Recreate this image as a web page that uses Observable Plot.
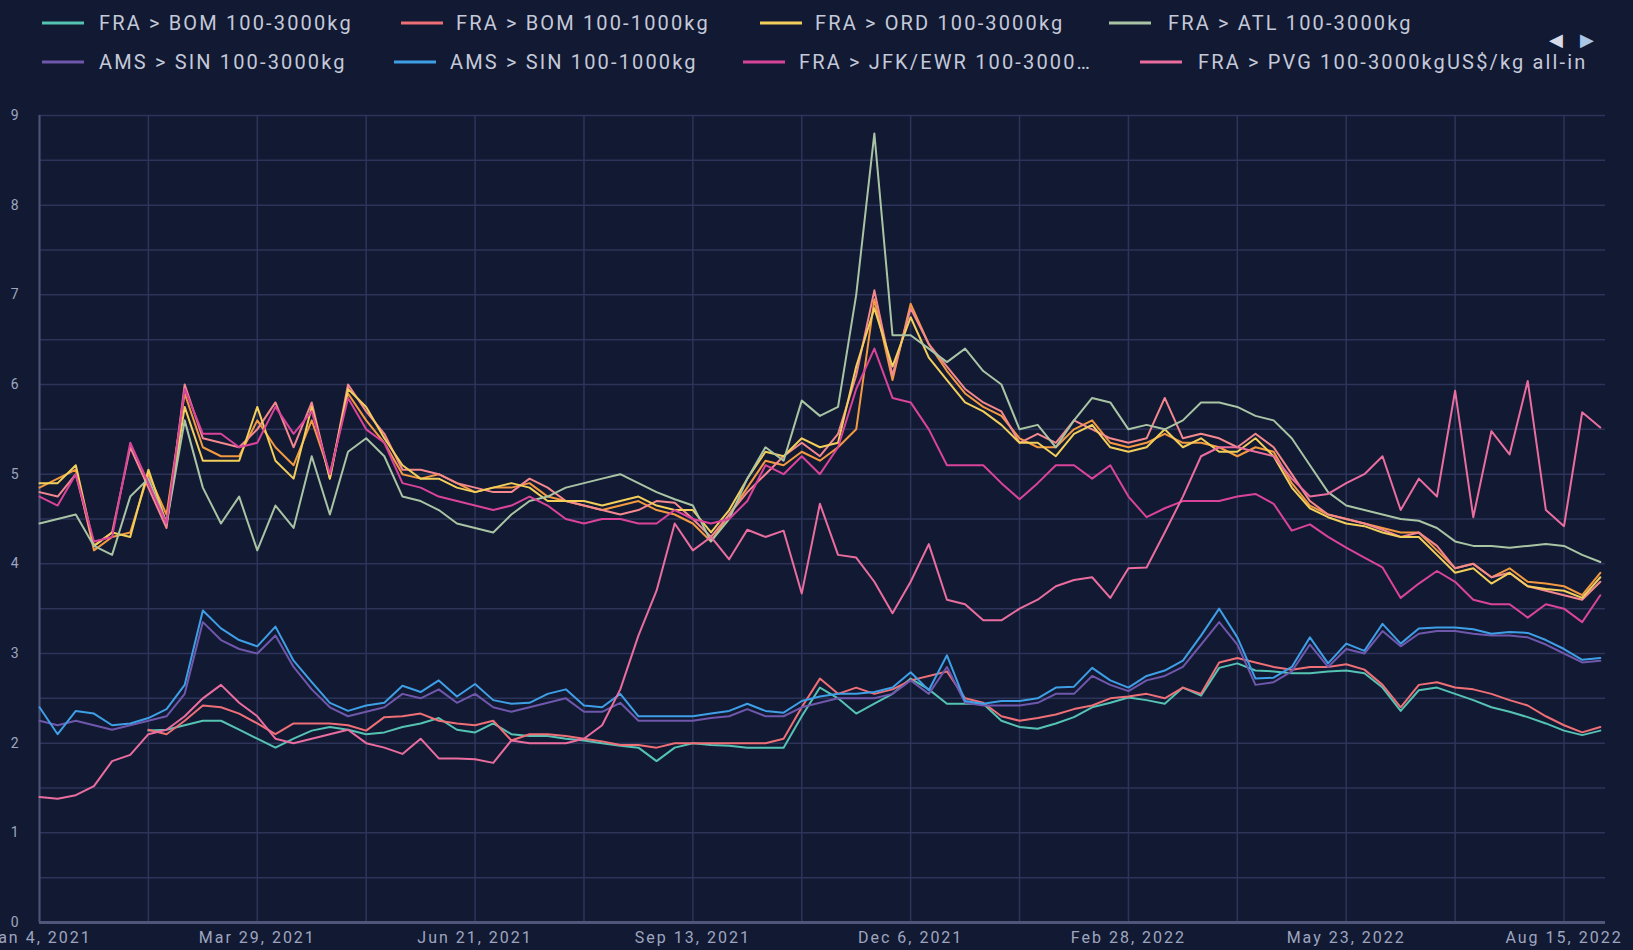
<!DOCTYPE html>
<html><head><meta charset="utf-8">
<script src="https://cdn.jsdelivr.net/npm/d3@7"></script>
<script src="https://cdn.jsdelivr.net/npm/@observablehq/plot@0.6"></script>
<style>
html,body{margin:0;padding:0;background:#121933;width:1633px;height:950px;overflow:hidden;font-family:Roboto,sans-serif;}
#legend{position:relative;height:95px;width:1633px;}
.txt{position:absolute;white-space:nowrap;color:#c4c9d9;font-size:20px;letter-spacing:2.15px;line-height:24px;transform:translateY(-50%);}
.sw{position:absolute;height:3px;width:42px;transform:translateY(-50%);}
.pg{position:absolute;font-family:"DejaVu Sans";font-size:18px;line-height:18px;transform:translateY(-50%);}
#chart{position:absolute;left:0;top:95px;}
#chart g[aria-label="x-axis tick label"]{letter-spacing:2px;}
</style></head>
<body>
<div id="legend"></div>
<div id="chart"></div>
<script>
// ---- data ----
const startDate = "2021-01-04";
const seriesNames = [
  "FRA > BOM 100-3000kg", "FRA > BOM 100-1000kg", "FRA > ORD 100-3000kg", "FRA > ATL 100-3000kg",
  "AMS > SIN 100-3000kg", "AMS > SIN 100-1000kg", "FRA > JFK/EWR 100-3000kg", "FRA > PVG 100-3000kg",
  "FRA > ORD 100-1000kg", "FRA > ATL 100-1000kg"
];
const legendLabels = [
  "FRA > BOM 100-3000kg", "FRA > BOM 100-1000kg", "FRA > ORD 100-3000kg", "FRA > ATL 100-3000kg",
  "AMS > SIN 100-3000kg", "AMS > SIN 100-1000kg", "FRA > JFK/EWR 100-3000…", "FRA > PVG 100-3000kg"
];
const unitLabel = "US$/kg all-in";
const seriesColors = ["#55c3b4", "#ef6f76", "#f2cf5b", "#a9c4a4", "#6f57ab", "#3f9fe6", "#d9449a", "#ea6d9f", "#f39a40", "#f4888e"];

const bom3000 = [null,null,null,null,null,null,2.14,2.15,2.2,2.25,
  2.25,2.15,2.05,1.95,2.05,2.14,2.18,2.15,2.1,2.12,
  2.18,2.22,2.28,2.15,2.12,2.22,2.1,2.08,2.08,2.05,
  2.03,2.0,1.97,1.95,1.8,1.95,2.0,1.98,1.97,1.95,
  1.95,1.95,2.3,2.62,2.5,2.33,2.44,2.55,2.72,2.6,
  2.44,2.44,2.44,2.25,2.18,2.16,2.22,2.29,2.4,2.45,
  2.51,2.48,2.44,2.62,2.53,2.84,2.89,2.81,2.8,2.78,
  2.78,2.8,2.81,2.78,2.62,2.36,2.59,2.62,2.55,2.48,
  2.4,2.35,2.29,2.22,2.14,2.09,2.14];
const bom1000 = [null,null,null,null,null,null,2.15,2.1,2.25,2.42,
  2.4,2.33,2.22,2.1,2.22,2.22,2.22,2.2,2.14,2.29,
  2.3,2.33,2.25,2.22,2.2,2.25,2.03,2.1,2.1,2.08,
  2.05,2.02,1.98,1.98,1.95,2.0,2.0,2.0,2.0,2.0,
  2.0,2.05,2.4,2.72,2.55,2.62,2.55,2.6,2.7,2.75,
  2.8,2.5,2.45,2.3,2.25,2.28,2.32,2.38,2.42,2.5,
  2.52,2.55,2.5,2.62,2.55,2.9,2.95,2.9,2.85,2.82,
  2.85,2.85,2.88,2.82,2.65,2.4,2.65,2.68,2.62,2.6,
  2.55,2.48,2.42,2.3,2.2,2.12,2.18];
const ord3000 = [4.9,4.9,5.1,4.2,4.35,4.3,5.05,4.45,5.75,5.15,
  5.15,5.15,5.75,5.15,4.95,5.75,4.95,5.95,5.75,5.4,
  5.1,4.95,4.95,4.85,4.8,4.85,4.9,4.85,4.7,4.7,
  4.7,4.65,4.7,4.75,4.65,4.6,4.6,4.35,4.6,4.95,
  5.25,5.2,5.4,5.3,5.35,6.2,6.85,6.2,6.75,6.3,
  6.05,5.8,5.7,5.55,5.35,5.35,5.2,5.45,5.55,5.3,
  5.25,5.3,5.5,5.3,5.4,5.25,5.25,5.4,5.2,4.85,
  4.62,4.52,4.45,4.42,4.35,4.3,4.3,4.1,3.9,3.95,
  3.78,3.9,3.75,3.72,3.7,3.62,3.85];
const atl3000 = [4.45,4.5,4.55,4.2,4.1,4.75,4.95,4.45,5.6,4.85,
  4.45,4.75,4.15,4.65,4.4,5.2,4.55,5.25,5.4,5.2,
  4.75,4.7,4.6,4.45,4.4,4.35,4.55,4.7,4.75,4.85,
  4.9,4.95,5.0,4.9,4.8,4.72,4.65,4.25,4.5,4.95,
  5.3,5.15,5.82,5.65,5.75,7.0,8.8,6.55,6.55,6.4,
  6.25,6.4,6.15,6.0,5.5,5.55,5.3,5.6,5.85,5.8,
  5.5,5.55,5.5,5.6,5.8,5.8,5.75,5.65,5.6,5.4,
  5.1,4.8,4.65,4.6,4.55,4.5,4.48,4.4,4.25,4.2,
  4.2,4.18,4.2,4.22,4.2,4.1,4.02];
const sin3000 = [2.25,2.2,2.25,2.2,2.15,2.2,2.25,2.3,2.55,3.35,
  3.15,3.05,3.0,3.2,2.85,2.6,2.4,2.3,2.35,2.4,
  2.55,2.5,2.6,2.45,2.55,2.4,2.35,2.4,2.45,2.5,
  2.35,2.35,2.45,2.25,2.25,2.25,2.25,2.28,2.3,2.38,
  2.3,2.3,2.4,2.45,2.5,2.5,2.5,2.55,2.7,2.55,
  2.85,2.45,2.42,2.42,2.42,2.45,2.55,2.55,2.75,2.65,
  2.58,2.7,2.75,2.85,3.1,3.35,3.1,2.65,2.68,2.8,
  3.1,2.85,3.05,3.0,3.25,3.08,3.22,3.25,3.25,3.22,
  3.2,3.2,3.18,3.1,3.0,2.9,2.92];
const sin1000 = [2.4,2.1,2.36,2.33,2.2,2.22,2.28,2.38,2.65,3.48,
  3.28,3.15,3.08,3.3,2.92,2.68,2.45,2.36,2.42,2.45,
  2.64,2.57,2.7,2.52,2.66,2.48,2.44,2.45,2.55,2.6,
  2.42,2.4,2.55,2.3,2.3,2.3,2.3,2.33,2.36,2.44,
  2.36,2.34,2.47,2.52,2.55,2.55,2.57,2.62,2.79,2.59,
  2.98,2.47,2.44,2.47,2.47,2.5,2.62,2.63,2.84,2.7,
  2.62,2.75,2.81,2.92,3.2,3.5,3.18,2.72,2.73,2.85,
  3.18,2.89,3.11,3.03,3.33,3.11,3.28,3.29,3.29,3.27,
  3.22,3.24,3.23,3.15,3.05,2.93,2.95];
const jfk3000 = [4.75,4.65,5.0,4.25,4.3,5.35,4.9,4.45,5.95,5.45,
  5.45,5.3,5.35,5.75,5.45,5.7,5.0,5.85,5.5,5.35,
  4.9,4.85,4.75,4.7,4.65,4.6,4.65,4.75,4.65,4.5,
  4.45,4.5,4.5,4.45,4.45,4.6,4.5,4.45,4.5,4.7,
  5.1,5.0,5.2,5.0,5.3,5.95,6.4,5.85,5.8,5.5,
  5.1,5.1,5.1,4.9,4.72,4.9,5.1,5.1,4.95,5.1,
  4.75,4.52,4.62,4.7,4.7,4.7,4.75,4.78,4.67,4.37,
  4.44,4.3,4.18,4.07,3.96,3.62,3.78,3.92,3.8,3.6,
  3.55,3.55,3.4,3.55,3.5,3.35,3.65];
const pvg3000 = [1.4,1.38,1.42,1.52,1.8,1.87,2.1,2.15,2.3,2.5,
  2.65,2.45,2.3,2.05,2.0,2.05,2.1,2.15,2.0,1.95,
  1.88,2.05,1.83,1.83,1.82,1.78,2.03,2.0,2.0,2.0,
  2.05,2.2,2.6,3.2,3.7,4.45,4.15,4.3,4.05,4.38,
  4.3,4.37,3.67,4.67,4.1,4.07,3.8,3.45,3.8,4.22,
  3.6,3.55,3.37,3.37,3.5,3.6,3.75,3.82,3.85,3.62,
  3.95,3.96,4.35,4.75,5.2,5.3,5.3,5.25,5.2,4.95,
  4.75,4.78,4.9,5.0,5.2,4.6,4.95,4.75,5.93,4.52,
  5.48,5.22,6.04,4.6,4.42,5.69,5.52];
const ord1000 = [4.85,4.95,5.05,4.15,4.3,4.35,5.0,4.55,5.9,5.3,
  5.2,5.2,5.6,5.3,5.1,5.6,5.0,5.9,5.6,5.35,
  5.0,4.95,5.0,4.9,4.8,4.85,4.85,4.9,4.75,4.7,
  4.65,4.6,4.65,4.7,4.6,4.55,4.45,4.25,4.55,4.85,
  5.15,5.1,5.25,5.15,5.3,5.5,6.95,6.05,6.9,6.45,
  6.15,5.9,5.75,5.65,5.4,5.3,5.3,5.5,5.6,5.35,
  5.3,5.35,5.45,5.35,5.35,5.3,5.2,5.3,5.25,4.9,
  4.65,4.55,4.5,4.45,4.4,4.35,4.35,4.15,3.95,4.0,
  3.85,3.95,3.8,3.78,3.75,3.65,3.9];
const atl1000 = [4.8,4.75,5.0,4.2,4.35,5.3,4.85,4.4,6.0,5.4,
  5.35,5.3,5.5,5.8,5.3,5.8,4.95,6.0,5.7,5.45,
  5.05,5.05,5.0,4.9,4.85,4.8,4.8,4.95,4.85,4.7,
  4.65,4.6,4.55,4.6,4.7,4.68,4.5,4.3,4.55,4.8,
  5.0,5.2,5.35,5.2,5.45,6.1,7.05,6.1,6.85,6.45,
  6.2,5.95,5.8,5.7,5.35,5.45,5.35,5.6,5.5,5.4,
  5.35,5.4,5.85,5.4,5.45,5.4,5.3,5.45,5.3,5.0,
  4.7,4.55,4.5,4.45,4.38,4.3,4.35,4.2,3.95,4.0,
  3.85,3.9,3.75,3.7,3.65,3.6,3.8];

const xTickDates = ["2021-01-04","2021-03-29","2021-06-21","2021-09-13","2021-12-06","2022-02-28","2022-05-23","2022-08-15"];
const yTicks = [0,1,2,3,4,5,6,7,8,9];

// ---- build ----
const valueSets = [bom3000,bom1000,ord3000,atl3000,sin3000,sin1000,jfk3000,pvg3000,ord1000,atl1000];
const t0 = new Date(startDate + "T00:00:00Z");
const drawOrder = [8,9,2,3,6,0,1,4,5,7];
const rows = [];
for (const si of drawOrder) {
  valueSets[si].forEach((v, i) => {
    if (v != null) rows.push({series: seriesNames[si], date: d3.utcDay.offset(t0, 7 * i), value: v});
  });
}
const tickDates = xTickDates.map(s => new Date(s + "T00:00:00Z"));
const gridDates = d3.utcMonday.range(t0, new Date("2022-09-01T00:00:00Z")).filter((d, i) => i % 6 === 0);
const yGrid = d3.range(0, 9.01, 0.5);
const fmt = d3.utcFormat("%b %-d, %Y");

const chart = Plot.plot({
  width: 1633, height: 855,
  marginLeft: 39, marginRight: 28, marginTop: 20, marginBottom: 28,
  style: {background: "#121933", color: "#9ea6bf", fontFamily: "Roboto, sans-serif", overflow: "visible"},
  x: {type: "utc", domain: [t0, new Date("2022-08-31T00:00:00Z")], label: null},
  y: {domain: [0, 9], label: null},
  color: {domain: seriesNames, range: seriesColors},
  marks: [
    Plot.ruleX(gridDates, {stroke: "#2c3559", strokeWidth: 1.5}),
    Plot.ruleY(yGrid, {stroke: "#2c3559", strokeWidth: 1.5}),
    Plot.ruleX([t0], {stroke: "#4b5476", strokeWidth: 2}),
    Plot.ruleY([0], {stroke: "#4e5779", strokeWidth: 3}),
    Plot.line(rows, {x: "date", y: "value", z: "series", stroke: "series", strokeWidth: 2, curve: "linear"}),
    Plot.axisX(tickDates, {tickSize: 0, tickPadding: 9, tickFormat: fmt, fontSize: 16, fill: "#9ea6bf", label: null}),
    Plot.axisY(yTicks, {tickSize: 0, tickPadding: 21, tickFormat: d3.format("d"), fontSize: 14, fill: "#9ea6bf", label: null})
  ]
});
document.getElementById("chart").appendChild(chart);

// ---- legend ----
const leg = document.getElementById("legend");
const rowsY = [23, 62];
const swX = [42, 401, 760, 1109, 42, 394, 743, 1140];
const txX = [99, 456, 815, 1168, 99, 450, 799, 1198];
legendLabels.forEach((lab, i) => {
  const y = rowsY[i < 4 ? 0 : 1];
  const sw = document.createElement("div");
  sw.className = "sw";
  sw.style.left = swX[i] + "px"; sw.style.top = y + "px"; sw.style.background = seriesColors[i];
  leg.appendChild(sw);
  const t = document.createElement("div");
  t.className = "txt";
  t.style.left = txX[i] + "px"; t.style.top = y + "px";
  t.textContent = lab + (i === 7 ? unitLabel : "");
  leg.appendChild(t);
});
const p1 = document.createElement("div"); p1.className = "pg"; p1.textContent = "◀";
p1.style.left = "1549px"; p1.style.top = "40px"; p1.style.color = "#d7dbe6"; leg.appendChild(p1);
const p2 = document.createElement("div"); p2.className = "pg"; p2.textContent = "▶";
p2.style.left = "1580px"; p2.style.top = "40px"; p2.style.color = "#a9c6e6"; leg.appendChild(p2);
</script>
</body></html>
